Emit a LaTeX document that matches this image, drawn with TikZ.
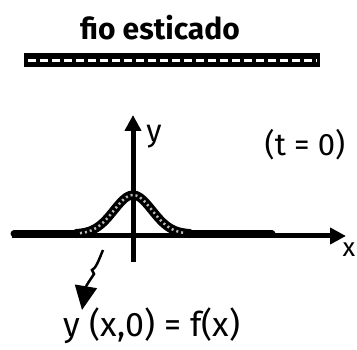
\documentclass[tikz,border=0pt]{standalone}
\usepackage{fontspec}
\setmainfont{Fira Sans}
\usetikzlibrary{arrows.meta}

\begin{document}
\begin{tikzpicture}[
  x=1pt, y=-1pt,
  font=\fontsize{31}{33}\selectfont,
  axis/.style={line width=5pt, -{Triangle[length=16pt,width=16pt]}},
  wire/.style={line width=7pt, line cap=round},
  pulse/.style={line width=9pt, line cap=round, draw=black},
  grain/.style={line width=2.5pt, draw=gray!55, dash pattern=on 2pt off 3pt},
  lbl/.style={inner sep=1pt},
]
  \useasboundingbox (0,0) rectangle (357,350);

  % title and stretched string
  \node[lbl, font=\fontsize{30}{32}\selectfont\bfseries] (title) at (160,28) {fio esticado};
  \node[fill=black, minimum width=296pt, minimum height=14pt, inner sep=0pt] (bar) at (172,60) {};
  \draw[white, line width=3pt, dash pattern=on 8pt off 4pt] ([xshift=4pt,yshift=-1pt]bar.west) -- ([xshift=-4pt,yshift=-1pt]bar.east);

  % axes
  \coordinate (xstart) at (12,236);
  \coordinate (xend)   at (346,236);
  \coordinate (ystart) at (133,262);
  \coordinate (yend)   at (133,115);
  \draw[axis] (xstart) -- (xend);
  \draw[axis] (ystart) -- (yend);
  \node[lbl] (ylab) at (154,137) {y};
  \node[lbl, font=\fontsize{26}{28}\selectfont] (xlab) at (349,250) {x};
  \node[lbl] (time) at (305,145) {(t = 0)};

  % pulse at t=0
  \draw[wire] (14,234) -- (80,234);
  \draw[wire] (182,234) -- (272,234);
  \draw[pulse] plot[domain=76:190, samples=60, smooth] ({\x},{234-39*exp(-((\x-133)/27)^2)});
  \draw[grain] plot[domain=80:186, samples=60, smooth] ({\x},{234-39*exp(-((\x-133)/27)^2)});

  % label of the pulse
  \node[lbl, font=\fontsize{34}{36}\selectfont] (shape) at (152,326) {y (x,0) = f(x)};
  \coordinate (squig) at (103,250);
  \coordinate (tip) at (82,310);
  \draw[line width=2.5pt, -{Triangle[length=24pt,width=22pt]}]
    (squig) .. controls (98,262) and (96,268) .. (92,270)
    -- (94,274) .. controls (90,280) and (86,286) .. (tip);
\end{tikzpicture}
\end{document}
